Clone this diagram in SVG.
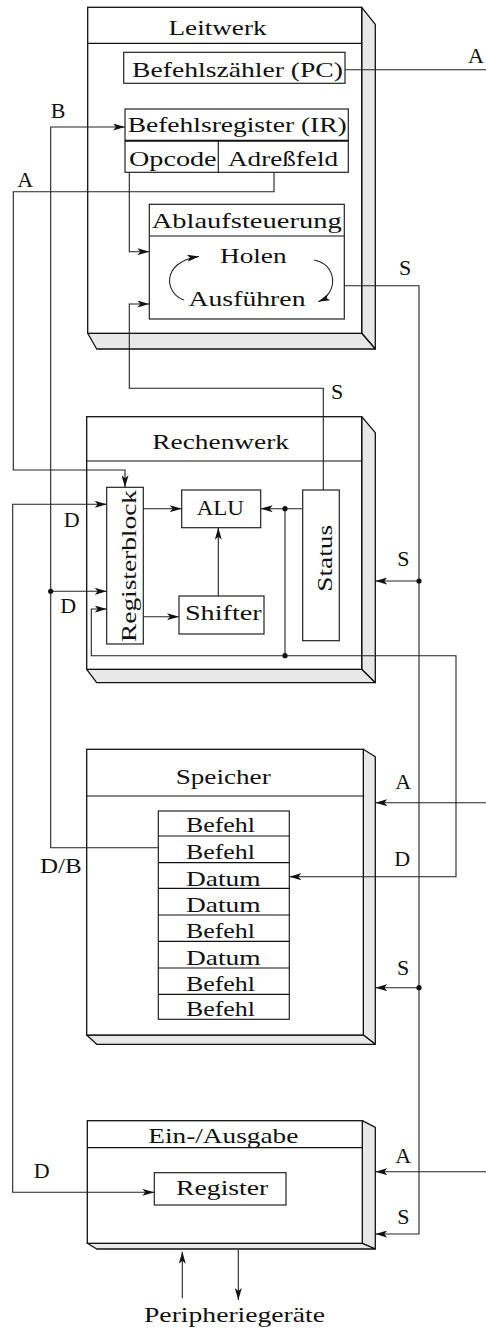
<svg xmlns="http://www.w3.org/2000/svg" width="486" height="1332" viewBox="0 0 486 1332">
<style>
text{font-family:"Liberation Serif","Times New Roman",serif;font-size:22px;fill:#111}
.m{text-anchor:middle}
.box{fill:#fff;stroke:#111;stroke-width:1.3}
.face{fill:#e8e8e8;stroke:#111;stroke-width:1.3;stroke-linejoin:round}
.hl{stroke:#111;stroke-width:1.2;fill:none}
.in{fill:#fff;stroke:#222;stroke-width:1.2}
.c{fill:none;stroke:#222;stroke-width:1.1}
.a{marker-end:url(#ah)}
.b{marker-start:url(#ah);marker-end:url(#ah)}
.dot{fill:#111}
</style>
<defs>
<marker id="ah" viewBox="0 0 12 7" refX="12" refY="3.5" markerWidth="12" markerHeight="7" markerUnits="userSpaceOnUse" orient="auto-start-reverse">
<path d="M0,0 L12,3.5 L0,7 L3,3.5 z" fill="#111"/>
</marker>
</defs>

<g id="leitwerk">
<polygon class="face" points="361.7,7.3 375.3,24.3 375.3,349 361.7,333.3"/>
<polygon class="face" points="87.7,333.3 361.7,333.3 375.3,349 96.7,349"/>
<rect class="box" x="87.7" y="7.3" width="274" height="326"/>
<line class="hl" x1="87.7" y1="43.3" x2="361.7" y2="43.3"/>
<text class="m" x="217.5" y="34.5" textLength="98" lengthAdjust="spacingAndGlyphs">Leitwerk</text>
<g id="pc">
<rect class="in" x="123.7" y="52.3" width="221.3" height="31"/>
<text class="m" x="237.5" y="76.7" textLength="211" lengthAdjust="spacingAndGlyphs">Befehlszähler (PC)</text>
</g>
<g id="ir">
<rect class="in" x="125" y="109" width="223.3" height="63.3"/>
<line x1="125" y1="140.7" x2="348.3" y2="140.7" stroke="#111" stroke-width="2"/>
<line x1="218.3" y1="140.7" x2="218.3" y2="172.3" stroke="#222" stroke-width="1.2"/>
<text class="m" x="237.2" y="131.7" textLength="219" lengthAdjust="spacingAndGlyphs">Befehlsregister (IR)</text>
<text class="m" x="172.8" y="165.7" textLength="87.7" lengthAdjust="spacingAndGlyphs">Opcode</text>
<text class="m" x="283" y="165.7" textLength="110" lengthAdjust="spacingAndGlyphs">Adreßfeld</text>
</g>
<g id="ablauf">
<rect class="in" x="149.3" y="204.3" width="195" height="114.7"/>
<line class="hl" x1="149.3" y1="236" x2="344.3" y2="236"/>
<text class="m" x="246.7" y="227.7" textLength="190" lengthAdjust="spacingAndGlyphs">Ablaufsteuerung</text>
<text class="m" x="253.3" y="263.3" textLength="66.7" lengthAdjust="spacingAndGlyphs">Holen</text>
<text class="m" x="247" y="305.7" textLength="117" lengthAdjust="spacingAndGlyphs">Ausführen</text>
<path class="c a" d="M184,300 C165,294 160,262 199,256.5"/>
<path class="c a" d="M314,260 C337,264 339,293 318.3,301.7"/>
</g>
</g>

<g id="rechenwerk">
<polygon class="face" points="361.7,416.7 375.3,432.7 375.3,682.7 361.7,669.3"/>
<polygon class="face" points="86.7,669.3 361.7,669.3 375.3,682.7 96.7,682.7"/>
<rect class="box" x="86.7" y="416.7" width="275" height="252.6"/>
<line class="hl" x1="86.7" y1="461" x2="361.7" y2="461"/>
<text class="m" x="220.7" y="449" textLength="136.7" lengthAdjust="spacingAndGlyphs">Rechenwerk</text>
<g id="registerblock">
<rect class="in" x="106.7" y="487.3" width="36.6" height="156.7"/>
<text class="m" transform="translate(135.5,566) rotate(-90)" x="0" y="0" textLength="152" lengthAdjust="spacingAndGlyphs">Registerblock</text>
</g>
<g id="alu">
<rect class="in" x="181.7" y="490" width="79" height="37.7"/>
<text class="m" x="220.3" y="515" textLength="47.3" lengthAdjust="spacingAndGlyphs">ALU</text>
</g>
<g id="shifter">
<rect class="in" x="179" y="596" width="85" height="38"/>
<text class="m" x="223.3" y="620" textLength="76.7" lengthAdjust="spacingAndGlyphs">Shifter</text>
</g>
<g id="status">
<rect class="in" x="302.7" y="490" width="36.6" height="150.7"/>
<text class="m" transform="translate(331.5,558.3) rotate(-90)" x="0" y="0" textLength="66.7" lengthAdjust="spacingAndGlyphs">Status</text>
</g>
</g>

<g id="speicher">
<polygon class="face" points="363.3,749.3 375.3,756.7 375.3,1044.3 363.3,1035"/>
<polygon class="face" points="86.7,1035 363.3,1035 375.3,1044.3 96.7,1044.3"/>
<rect class="box" x="86.7" y="749.3" width="276.6" height="285.7"/>
<line class="hl" x1="86.7" y1="796" x2="363.3" y2="796"/>
<text class="m" x="223.2" y="784.3" textLength="95" lengthAdjust="spacingAndGlyphs">Speicher</text>
<g id="memtable">
<rect class="in" x="158.3" y="811" width="131" height="208.3"/>
<path class="hl" d="M158.3,836H289.3M158.3,862.7H289.3M158.3,888.3H289.3M158.3,915H289.3M158.3,941.3H289.3M158.3,968H289.3M158.3,994.3H289.3"/>
<text x="186" y="832" textLength="69" lengthAdjust="spacingAndGlyphs">Befehl</text>
<text x="186" y="859" textLength="69" lengthAdjust="spacingAndGlyphs">Befehl</text>
<text x="186" y="885.5" textLength="74.7" lengthAdjust="spacingAndGlyphs">Datum</text>
<text x="186" y="912" textLength="74.7" lengthAdjust="spacingAndGlyphs">Datum</text>
<text x="186" y="938.3" textLength="69" lengthAdjust="spacingAndGlyphs">Befehl</text>
<text x="186" y="964.5" textLength="74.7" lengthAdjust="spacingAndGlyphs">Datum</text>
<text x="186" y="990.5" textLength="69" lengthAdjust="spacingAndGlyphs">Befehl</text>
<text x="186" y="1016" textLength="69" lengthAdjust="spacingAndGlyphs">Befehl</text>
</g>
</g>

<g id="ein-ausgabe">
<polygon class="face" points="362.3,1120.7 375.3,1127.3 375.3,1249 362.3,1243.3"/>
<polygon class="face" points="87.3,1243.3 362.3,1243.3 375.3,1249 96.7,1249"/>
<rect class="box" x="87.3" y="1120.7" width="275" height="122.6"/>
<line class="hl" x1="87.3" y1="1147.7" x2="362.3" y2="1147.7"/>
<text class="m" x="223.3" y="1143.3" textLength="150" lengthAdjust="spacingAndGlyphs">Ein-/Ausgabe</text>
<g id="ioregister">
<rect class="in" x="154.3" y="1172.7" width="131.7" height="32.3"/>
<text class="m" x="222.2" y="1195" textLength="92.3" lengthAdjust="spacingAndGlyphs">Register</text>
</g>
</g>

<g id="connectors">
<path class="c" d="M345,69.7H486"/>
<path class="c a" d="M158.3,847.7H50.7V127H125"/>
<path class="c a" d="M50.7,591.3H106.7"/>
<path class="c a" d="M274,172.3V191.7H13.3V470H125V487.3"/>
<path class="c a" d="M129.3,172.3V251.7H149.3"/>
<path class="c a" d="M323.3,490V388.3H129.3V304H149.3"/>
<path class="c a" d="M344.3,285.7H419V1234H375.3"/>
<path class="c a" d="M419,581H375.3"/>
<path class="c a" d="M419,987.7H375.3"/>
<path class="c b" d="M106.7,504.3H12.7V1192.3H154.3"/>
<path class="c b" d="M289.3,876.7H456V655.7H91.3V609H106.7"/>
<path class="c" d="M285,655.7V508.7"/>
<path class="c a" d="M302.7,508.7H260.7"/>
<path class="c a" d="M143.3,508.7H181.7"/>
<path class="c a" d="M143.3,616.7H179"/>
<path class="c a" d="M218.3,596V527.7"/>
<path class="c a" d="M486,802.7H375.3"/>
<path class="c a" d="M486,1171.7H375.3"/>
<path class="c a" d="M182.3,1298.3V1251.7"/>
<path class="c a" d="M238.3,1250V1300"/>
<circle class="dot" cx="50.7" cy="591.3" r="2.6"/>
<circle class="dot" cx="285" cy="508.7" r="2.6"/>
<circle class="dot" cx="285" cy="655.7" r="2.6"/>
<circle class="dot" cx="419" cy="581" r="2.6"/>
<circle class="dot" cx="419" cy="987.7" r="2.6"/>
<text class="m" x="476" y="63">A</text>
<text class="m" x="58" y="118.3">B</text>
<text class="m" x="25.3" y="186.7">A</text>
<text class="m" x="405" y="275">S</text>
<text class="m" x="337" y="399">S</text>
<text class="m" x="71.7" y="526.7">D</text>
<text class="m" x="68.3" y="613.3">D</text>
<text class="m" x="403.3" y="566">S</text>
<text class="m" x="60.8" y="873.3" textLength="41.7" lengthAdjust="spacingAndGlyphs">D/B</text>
<text class="m" x="403.3" y="789.3">A</text>
<text class="m" x="402.3" y="866">D</text>
<text class="m" x="403" y="975">S</text>
<text class="m" x="41.7" y="1178.3">D</text>
<text class="m" x="403.3" y="1163.3">A</text>
<text class="m" x="403.3" y="1224">S</text>
<text class="m" x="234.5" y="1321.7" textLength="181" lengthAdjust="spacingAndGlyphs">Peripheriegeräte</text>
</g>
</svg>
